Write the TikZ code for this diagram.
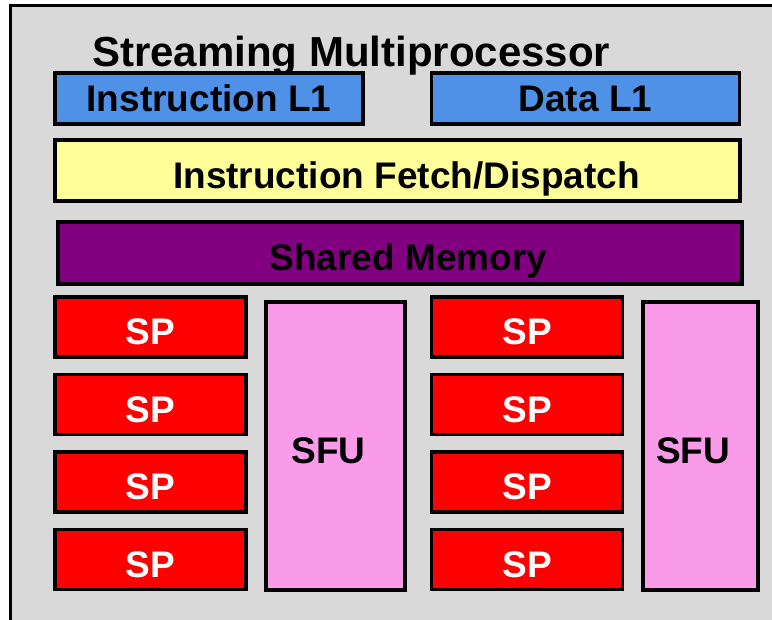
\documentclass[tikz,border=0pt]{standalone}
\usepackage{fontspec}
\setmainfont{Liberation Sans}
\usetikzlibrary{positioning}
\definecolor{smgray}{HTML}{D9D9D9}
\definecolor{cacheblue}{HTML}{4F91E6}
\definecolor{fetchyellow}{HTML}{FFFF99}
\definecolor{shpurple}{HTML}{800080}
\definecolor{sfupink}{HTML}{F99BE8}
\tikzset{
	block/.style={
		rectangle,
		line width=3.5pt,
		draw=black,
		inner sep=0pt,
		text height=36pt,
		text depth=0pt,
		font=\fontsize{37}{40}\selectfont\bfseries,
	},
	cache/.style={
		block,
		fill=cacheblue,
		text height=26pt,
		minimum width=308pt,
		minimum height=51pt,
	},
	spbox/.style={
		block,
		fill=red,
		text=white,
		minimum width=191pt,
		minimum height=60pt,
	},
	sfubox/.style={
		block,
		fill=sfupink,
		minimum height=288pt,
	},
}

\begin{document}
\begin{tikzpicture}[x=1pt, y=-1pt]
				
				\useasboundingbox (0,0) rectangle (772,620);
				\clip (0,0) rectangle (772,620);
				\draw [line width=3pt, fill=smgray] (10,6) rectangle (800,650);
				
				\node [anchor=base west, inner sep=0pt, font=\fontsize{42}{46}\selectfont\bfseries] (title) at (92,67) {Streaming Multiprocessor};
				
				\node [cache] (il1) at (209,98.5) {Instruction L1};
				\node [cache] (dl1) at (585.5,98.5) {Data L1};
				
				\node [block, fill=fetchyellow, minimum width=685pt, minimum height=61pt] (fetch) at (397.5,170.5) {\hspace*{18pt}Instruction Fetch/Dispatch};
				\node [block, fill=shpurple, minimum width=684pt, minimum height=62pt] (shmem) at (400,253) {\hspace*{17pt}Shared Memory};
				
				\node [spbox] (spa1) at (150.5,327) {SP};
				\node [spbox] (spa2) [node distance=14pt, below =of spa1] {SP};
				\node [spbox] (spa3) [node distance=14pt, below =of spa2] {SP};
				\node [spbox] (spa4) [node distance=14pt, below =of spa3] {SP};
				
				\node [spbox] (spb1) at (527,327) {SP};
				\node [spbox] (spb2) [node distance=14pt, below =of spb1] {SP};
				\node [spbox] (spb3) [node distance=14pt, below =of spb2] {SP};
				\node [spbox] (spb4) [node distance=14pt, below =of spb3] {SP};
				
				\node [sfubox, minimum width=139pt] (sfua) at (335.5,446) {SFU\hspace*{14pt}};
				\node [sfubox, minimum width=115pt] (sfub) at (700.5,446) {SFU\hspace*{15pt}};
			\end{tikzpicture}
\end{document}
